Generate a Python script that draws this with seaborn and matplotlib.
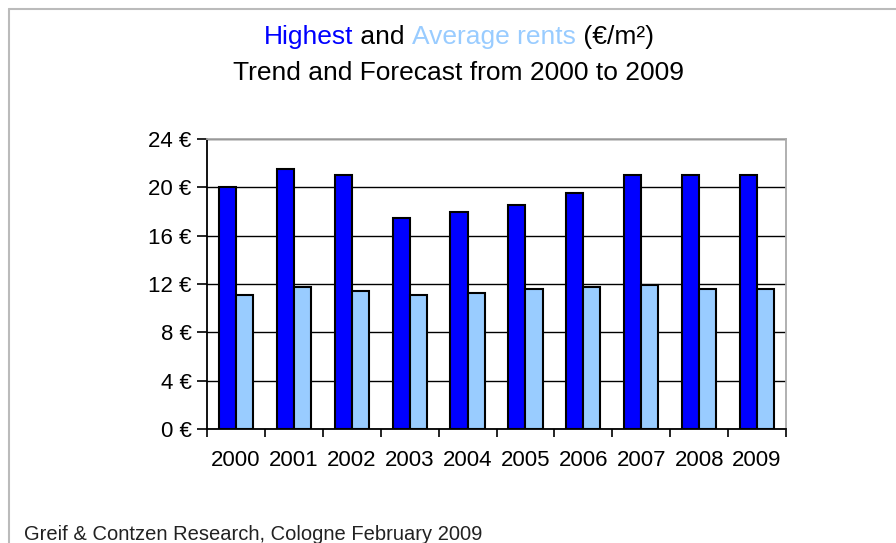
import matplotlib
matplotlib.use("Agg")
import matplotlib.pyplot as plt
import seaborn as sns
import pandas as pd
from matplotlib.lines import Line2D
from matplotlib.ticker import FixedLocator

years = ["2000", "2001", "2002", "2003", "2004", "2005", "2006", "2007", "2008", "2009"]
highest = [20.0, 21.5, 21.0, 17.5, 18.0, 18.5, 19.5, 21.0, 21.0, 21.0]
average = [11.1, 11.75, 11.4, 11.1, 11.25, 11.6, 11.75, 11.9, 11.6, 11.6]
series_names = ["Highest", "Average"]
colors = ["#0000FF", "#99CCFF"]
y_ticks = [0, 4, 8, 12, 16, 20, 24]

df = pd.DataFrame({
    "year": years * 2,
    "value": highest + average,
    "series": [series_names[0]] * len(years) + [series_names[1]] * len(years),
})

sns.set_theme(style="white")
plt.rcParams["font.family"] = ["Liberation Sans", "DejaVu Sans"]

fig = plt.figure(figsize=(8.96, 5.43), dpi=100)
ax = fig.add_axes([207 / 896, 1 - 429 / 543, (786 - 207) / 896, (429 - 139) / 543])

sns.barplot(data=df, x="year", y="value", hue="series", palette=colors,
            width=0.59, edgecolor="black", linewidth=1.5, ax=ax, legend=False,
            errorbar=None, saturation=1)

ax.set_ylim(0, 24)
ax.set_xlim(-0.5, len(years) - 0.5)
ax.set_yticks(y_ticks)
ax.set_yticklabels([f"{v} €" for v in y_ticks], fontsize=16)
ax.set_xlabel("")
ax.set_ylabel("")
ax.tick_params(axis="x", which="major", length=0, pad=15, labelsize=16)
ax.xaxis.set_minor_locator(FixedLocator([i - 0.5 for i in range(len(years) + 1)]))
ax.tick_params(axis="x", which="minor", bottom=True, length=6, width=1.2, color="black", direction="out")
ax.tick_params(axis="y", left=True, length=7, width=1.2, color="black", direction="out", pad=4)
for t in ax.get_xticklabels() + ax.get_yticklabels():
    t.set_color("black")

ax.grid(axis="y", color="black", linewidth=1.0)
ax.set_axisbelow(True)
for s in ["left", "bottom"]:
    ax.spines[s].set_color("black")
    ax.spines[s].set_linewidth(1.3)
for s in ["top", "right"]:
    ax.spines[s].set_color("#AAAAAA")
    ax.spines[s].set_linewidth(1.3)
    ax.spines[s].set_visible(True)

# Outer frame lines (top and left)
fig.add_artist(Line2D([8.5 / 896, 1], [1 - 9 / 543, 1 - 9 / 543], color="#BBBBBB", linewidth=1.5,
                      transform=fig.transFigure))
fig.add_artist(Line2D([8.5 / 896, 8.5 / 896], [0, 1 - 9 / 543], color="#BBBBBB", linewidth=1.5,
                      transform=fig.transFigure))

# Title line 1 with coloured words
pieces = [("Highest", "#0000FF"), (" and ", "black"), ("Average rents", "#99CCFF"), (" (€/m²)", "black")]
fs_title = 19
center_x = 458
t0 = fig.text(0, 0, "".join(p[0] for p in pieces), fontsize=fs_title)
fig.canvas.draw()
total_w = t0.get_window_extent().width
t0.remove()
y_base = 543 - 44
x_cur = center_x - total_w / 2
for txt, col in pieces:
    tt = fig.text(x_cur / 896, y_base / 543, txt, fontsize=fs_title, color=col,
                  ha="left", va="baseline")
    fig.canvas.draw()
    x_cur = tt.get_window_extent().x1

fig.text(center_x / 896, (543 - 80) / 543, "Trend and Forecast from 2000 to 2009", fontsize=fs_title,
         color="black", ha="center", va="baseline")

fig.text(24 / 896, (543 - 540) / 543, "Greif & Contzen Research, Cologne February 2009",
         fontsize=14.5, color="#222222", ha="left", va="baseline")

fig.savefig("out.png", dpi=100)
